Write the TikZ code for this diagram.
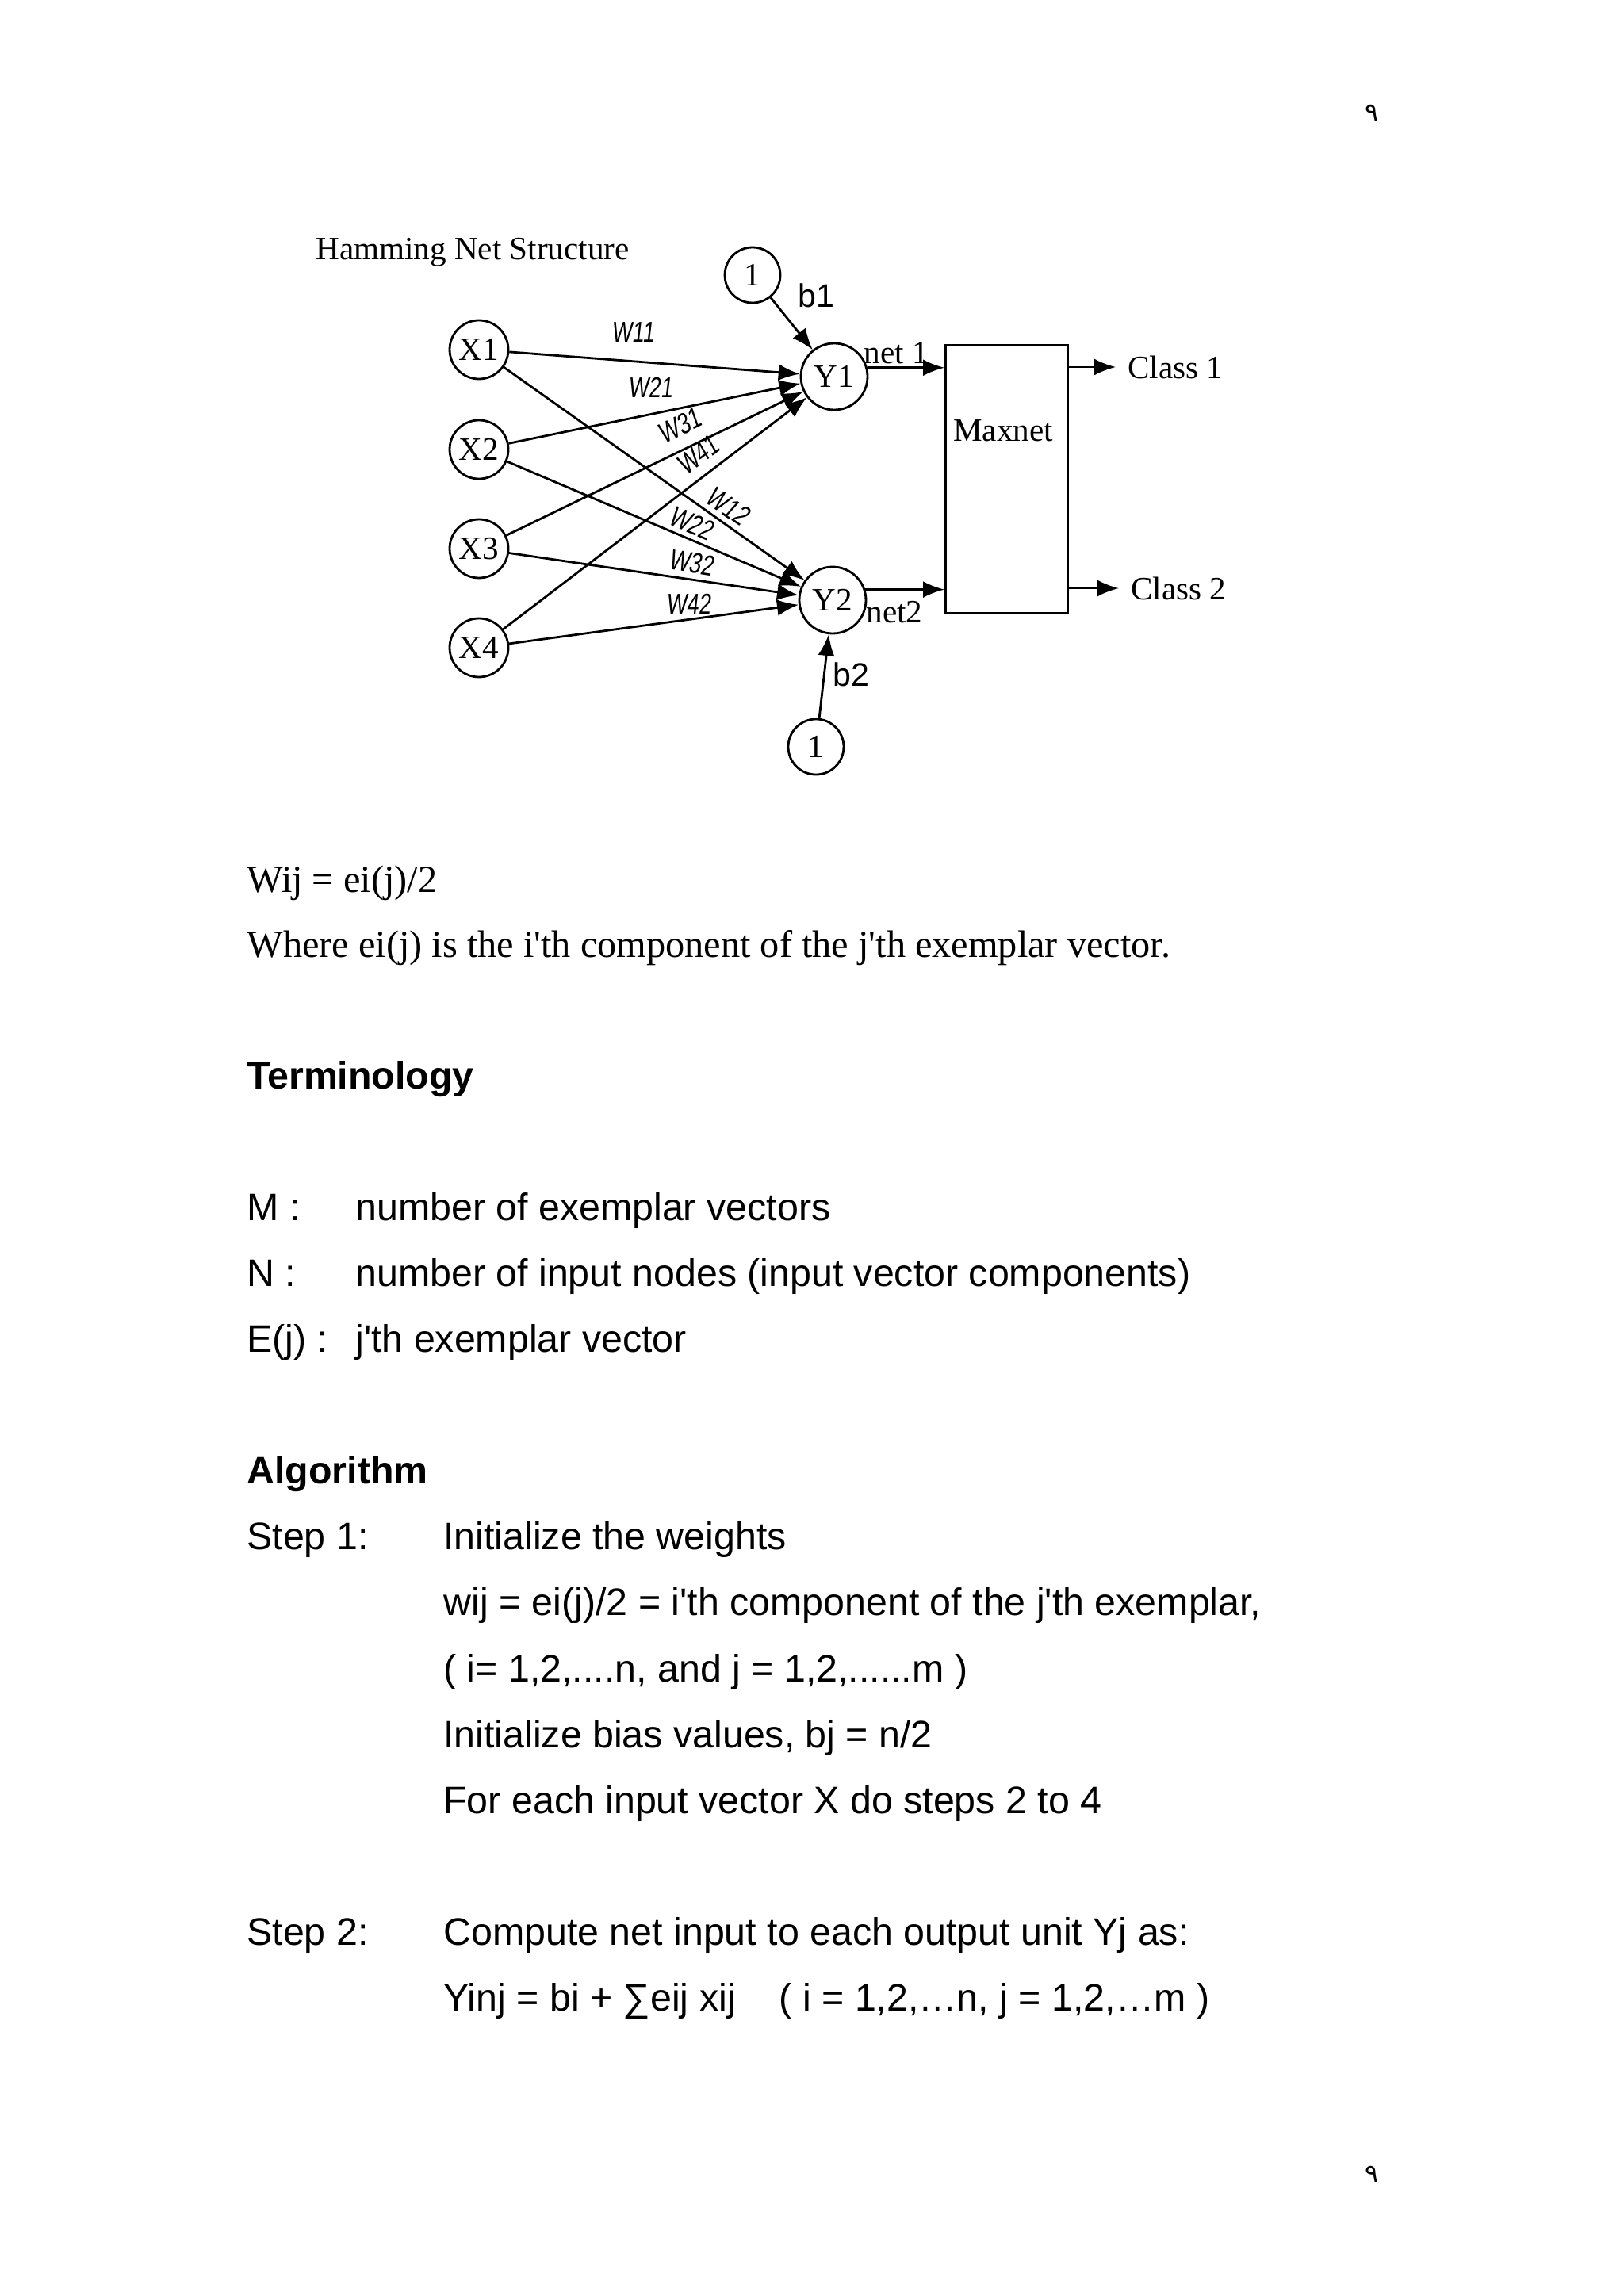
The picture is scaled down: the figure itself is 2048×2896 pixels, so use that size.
\documentclass[tikz,border=0pt]{standalone}
\usepackage{fontspec}
\setmainfont{Liberation Serif}
\setsansfont{Liberation Sans}
\newfontfamily\wfont[FakeStretch=0.75,FakeSlant=0.12]{Liberation Sans}
\newfontfamily\arabicfont[Script=Arabic]{DejaVu Sans}
\TeXXeTstate=1
\usetikzlibrary{arrows.meta}
\newcommand{\q}{\textquotesingle}

\begin{document}
\begin{tikzpicture}[x=0.1mm,y=-0.1mm,line width=0.8pt,
  >={Latex[length=2.7mm,width=2.1mm]},
  unit/.style={draw,circle,inner sep=0pt,minimum size=7.4mm,font=\fontsize{11.7}{14}\selectfont},
  outunit/.style={unit,minimum size=8.4mm},
  biasunit/.style={unit,minimum size=7mm},
  wlabel/.style={inner sep=0pt,font=\wfont\fontsize{10.3}{12}\selectfont},
  lbl/.style={font=\fontsize{11.7}{14}\selectfont},
  blbl/.style={font=\sffamily\fontsize{11.7}{14}\selectfont},
  serifbody/.style={anchor=base west,inner sep=0pt,font=\fontsize{13.75}{16}\selectfont},
  body/.style={anchor=base west,inner sep=0pt,font=\sffamily\fontsize{13.75}{16}\selectfont},
  head/.style={body,font=\sffamily\bfseries\fontsize{13.75}{16}\selectfont}]
\useasboundingbox (0,0) rectangle (2048,2896);

\node[font=\arabicfont\fontsize{9}{10}\selectfont] (pgtop) at (1730,142) {\beginR ٩\endR};
\node[font=\arabicfont\fontsize{9}{10}\selectfont] (pgbot) at (1730,2742) {\beginR ٩\endR};

% network
\node[lbl,anchor=west,inner sep=0pt] (title) at (397,318) {Hamming Net Structure};
\node[unit] (X1) at (604,441) {X1};
\node[unit] (X2) at (604,567) {X2};
\node[unit] (X3) at (604,692) {X3};
\node[unit] (X4) at (604,817) {X4};
\node[outunit] (Y1) at (1052,475) {Y1};
\node[outunit] (Y2) at (1050,757) {Y2};
\node[biasunit] (B1) at (949,347) {1};
\node[biasunit] (B2) at (1029,942) {1};
\node[draw,anchor=north west,inner sep=0pt,minimum width=15.4mm,minimum height=33.8mm] (maxnet) at (1191,434) {};
\node[lbl] (maxlbl) at (1265,543) {Maxnet};

\foreach \i in {1,...,4}
  \foreach \j in {1,2}
    \draw[->] (X\i) -- (Y\j);
\draw[->] (B1) -- (Y1);
\draw[->] (B2) -- (Y2);
\node[blbl] (b1) at (1029,373) {b1};
\node[blbl] (b2) at (1073,851) {b2};

\node[wlabel] (w11) at (798,419) {W11};
\node[wlabel] (w21) at (820,489) {W21};
\node[wlabel,rotate=26] (w31) at (857,537) {W31};
\node[wlabel,rotate=37] (w41) at (880,574) {W41};
\node[wlabel,rotate=-35] (w12) at (918,638) {W12};
\node[wlabel,rotate=-23] (w22) at (872,660) {W22};
\node[wlabel,rotate=-9] (w32) at (872,710) {W32};
\node[wlabel] (w42) at (868,762) {W42};

\draw[->] (Y1.15) -- (Y1.15 -| maxnet.west);
\draw[->] (Y2.18) -- (Y2.18 -| maxnet.west);
\node[lbl,inner sep=0pt] (net1) at (1130,445) {net 1};
\node[lbl,inner sep=0pt] (net2) at (1128,772) {net2};

\node[lbl,anchor=west,inner sep=1.4mm] (cls1) at (1407,463) {Class 1};
\node[lbl,anchor=west,inner sep=1.4mm] (cls2) at (1411,742) {Class 2};
\draw[->] (maxnet.east |- cls1) -- (cls1.west);
\draw[->] (maxnet.east |- cls2) -- (cls2.west);

% text
\node[serifbody] (wij) at (310,1125) {Wij = ei(j)/2};
\node[serifbody] (where) at (310,1207) {Where ei(j) is the i\q th component of the j\q th exemplar vector.};

\node[head] (term) at (310,1373) {Terminology};
\node[body] (mkey) at (310,1539) {M :};
\node[body] (mdef) at (447,1539) {number of exemplar vectors};
\node[body] (nkey) at (310,1622) {N :};
\node[body] (ndef) at (447,1622) {number of input nodes (input vector components)};
\node[body] (ekey) at (310,1705) {E(j) :};
\node[body] (edef) at (447,1705) {j\q th exemplar vector};

\node[head] (algo) at (310,1871) {Algorithm};
\node[body] (s1) at (310,1954) {Step 1:};
\node[body] (s1a) at (558,1954) {Initialize the weights};
\node[body] (s1b) at (558,2037) {wij = ei(j)/2 = i\q th component of the j\q th exemplar,};
\node[body] (s1c) at (558,2121) {( i= 1,2,....n, and j = 1,2,......m )};
\node[body] (s1d) at (558,2204) {Initialize bias values, bj = n/2};
\node[body] (s1e) at (558,2287) {For each input vector X do steps 2 to 4};
\node[body] (s2) at (310,2453) {Step 2:};
\node[body] (s2a) at (558,2453) {Compute net input to each output unit Yj as:};
\node[body] (s2b) at (558,2536) {Yinj = bi + ∑eij xij\hspace{5.5mm}( i = 1,2,…n, j = 1,2,…m )};
\end{tikzpicture}
\end{document}
